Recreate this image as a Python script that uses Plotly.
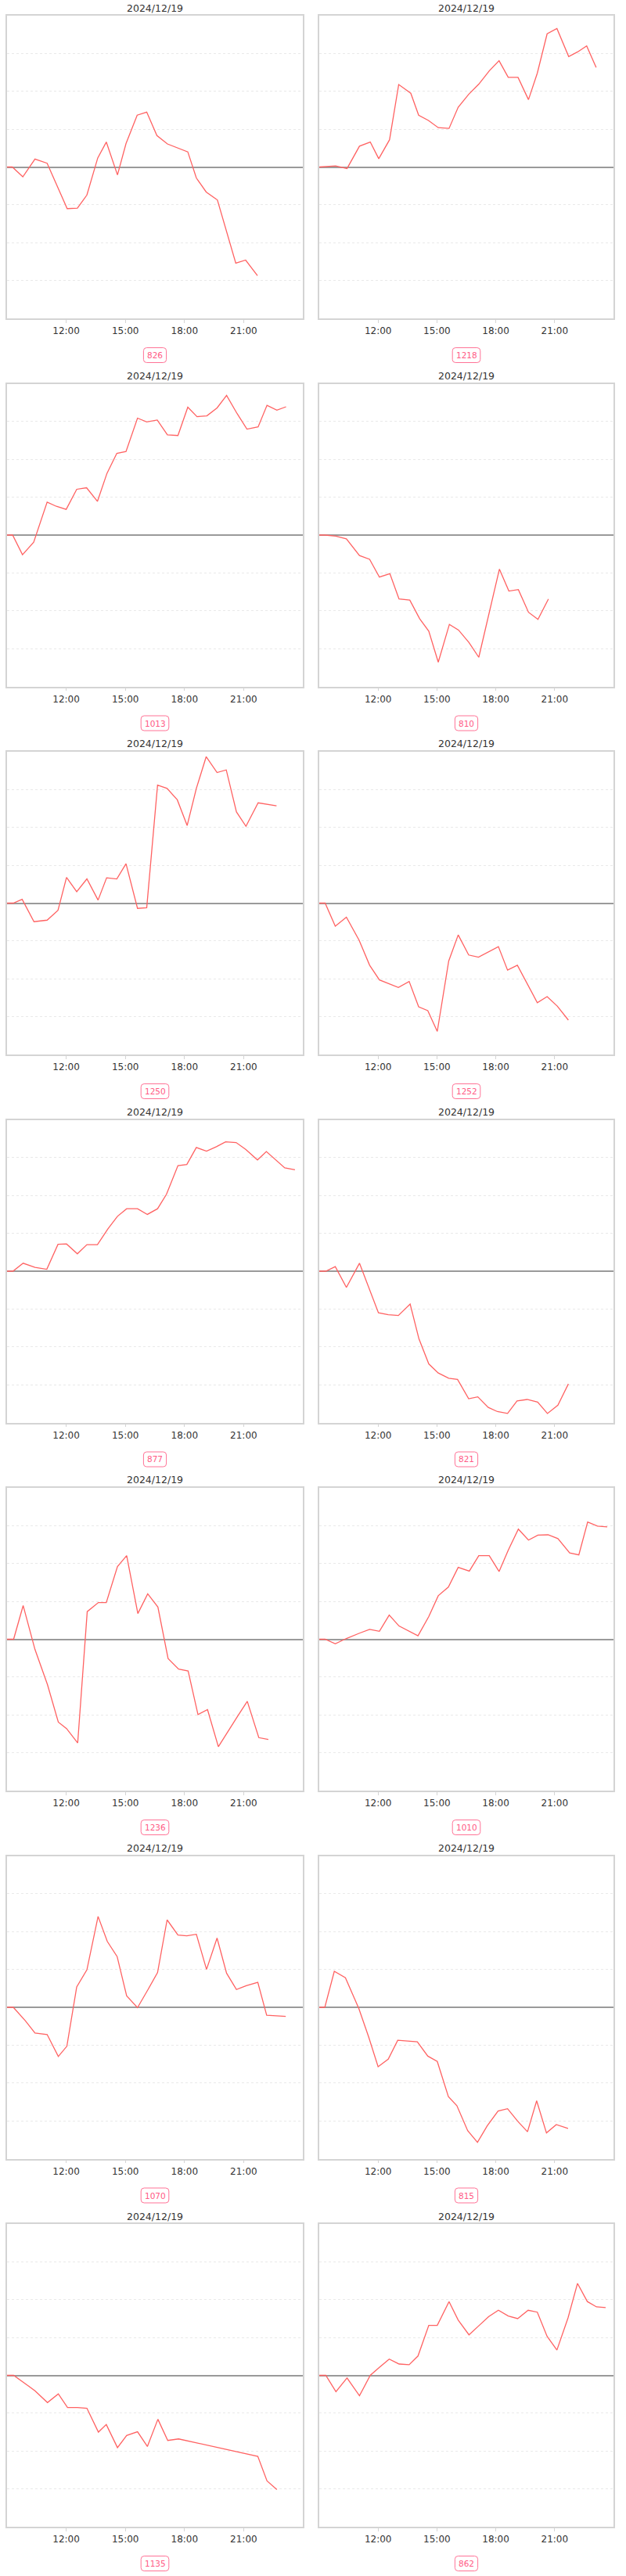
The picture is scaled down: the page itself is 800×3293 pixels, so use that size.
import plotly.graph_objects as go
from datetime import datetime

DATE = "2024-12-19"
TITLE = "2024/12/19"
TICK_LABELS = ["12:00", "15:00", "18:00", "21:00"]

labels = ["826", "1218", "1013", "810", "1250", "1252", "877", "821",
          "1236", "1010", "1070", "815", "1135", "862"]

t826 = ["09:00", "09:16", "09:48", "10:25", "11:02", "12:03", "12:34", "13:03", "13:36", "14:02", "14:36", "15:02",
        "15:36", "16:05", "16:36", "17:08", "18:10", "18:36", "19:06", "19:40", "20:36", "21:06", "21:42"]
v826 = [0, 0, -0.26, 0.21, 0.10, -1.10, -1.09, -0.74, 0.24, 0.66, -0.21, 0.62, 1.37, 1.45, 0.83, 0.61, 0.40,
        -0.29, -0.66, -0.87, -2.54, -2.46, -2.87]

t1218 = ["09:00", "09:50", "10:25", "11:03", "11:36", "12:02", "12:35", "13:03", "13:40", "14:04", "14:34", "15:04",
         "15:37", "16:05", "16:37", "17:08", "17:40", "18:10", "18:38", "19:08", "19:40", "20:07", "20:37", "21:07",
         "21:43", "22:10", "22:38", "23:07"]
v1218 = [0, 0.03, -0.04, 0.55, 0.66, 0.22, 0.72, 2.18, 1.95, 1.37, 1.23, 1.04, 1.02, 1.58, 1.92, 2.19, 2.54, 2.81,
         2.37, 2.37, 1.78, 2.48, 3.52, 3.66, 2.92, 3.04, 3.20, 2.63]

t1013 = ["09:00", "09:17", "09:47", "10:21", "11:02", "11:30", "12:00", "12:32", "13:02", "13:35", "14:04", "14:34",
         "15:02", "15:37", "16:05", "16:37", "17:08", "17:40", "18:10", "18:38", "19:08", "19:39", "20:08", "20:40",
         "21:10", "21:44", "22:11", "22:41", "23:09"]
v1013 = [0, 0, -0.52, -0.19, 0.87, 0.76, 0.68, 1.21, 1.25, 0.89, 1.63, 2.16, 2.21, 3.09, 2.99, 3.04, 2.65, 2.63,
         3.38, 3.13, 3.15, 3.36, 3.69, 3.21, 2.80, 2.86, 3.43, 3.30, 3.39]

t810 = ["09:00", "09:18", "09:51", "10:23", "11:03", "11:34", "12:04", "12:36", "13:04", "13:37", "14:07", "14:35",
        "15:04", "15:38", "16:06", "16:38", "17:08", "18:11", "18:40", "19:09", "19:40", "20:09", "20:41"]
v810 = [0, 0, -0.03, -0.10, -0.54, -0.64, -1.11, -1.02, -1.69, -1.72, -2.21, -2.54, -3.36, -2.36, -2.51, -2.84,
        -3.23, -0.90, -1.48, -1.44, -2.04, -2.23, -1.69]

t1250 = ["09:00", "09:19", "09:46", "10:22", "11:02", "11:35", "12:01", "12:32", "13:03", "13:37", "14:03", "14:34",
         "15:02", "15:37", "16:05", "16:38", "17:07", "17:38", "18:08", "18:36", "19:06", "19:39", "20:07", "20:38",
         "21:07", "21:44", "22:40"]
v1250 = [0, 0, 0.10, -0.49, -0.45, -0.19, 0.68, 0.30, 0.64, 0.08, 0.67, 0.64, 1.04, -0.14, -0.12, 3.12, 3.03, 2.73,
         2.05, 3.03, 3.87, 3.45, 3.52, 2.41, 2.03, 2.65, 2.57]

t1252 = ["09:00", "09:18", "09:49", "10:23", "11:02", "11:34", "12:04", "13:02", "13:35", "14:04", "14:32", "15:01",
         "15:36", "16:05", "16:37", "17:07", "18:08", "18:36", "19:06", "19:37", "20:07", "20:37", "21:08", "21:42"]
v1252 = [0, 0, -0.61, -0.37, -0.98, -1.64, -2.03, -2.23, -2.07, -2.74, -2.84, -3.39, -1.53, -0.84, -1.37, -1.43,
         -1.15, -1.77, -1.64, -2.15, -2.63, -2.47, -2.72, -3.09]

t877 = ["09:00", "09:18", "09:49", "10:25", "11:01", "11:35", "12:01", "12:34", "13:03", "13:35", "14:07", "14:36",
        "15:04", "15:37", "16:07", "16:38", "17:05", "17:40", "18:07", "18:36", "19:07", "19:37", "20:05", "20:37",
        "21:06", "21:42", "22:09", "22:39", "23:05", "23:36"]
v877 = [0, 0, 0.21, 0.10, 0.05, 0.71, 0.72, 0.46, 0.70, 0.70, 1.12, 1.45, 1.65, 1.65, 1.50, 1.65, 2.03, 2.79, 2.82,
        3.27, 3.17, 3.29, 3.42, 3.40, 3.22, 2.94, 3.16, 2.93, 2.73, 2.68]

t821 = ["09:00", "09:20", "09:49", "10:23", "11:03", "12:01", "12:31", "13:02", "13:38", "14:05", "14:35", "15:04",
        "15:36", "16:03", "16:37", "17:05", "17:37", "18:05", "18:36", "19:05", "19:36", "20:08", "20:38", "21:10",
        "21:42"]
v821 = [0, 0, 0.12, -0.43, 0.21, -1.10, -1.15, -1.17, -0.87, -1.79, -2.45, -2.69, -2.83, -2.86, -3.37, -3.32,
        -3.60, -3.71, -3.76, -3.43, -3.39, -3.46, -3.76, -3.54, -2.98]

t1236 = ["09:00", "09:20", "09:49", "10:25", "11:03", "11:36", "12:01", "12:35", "13:04", "13:38", "14:02", "14:36",
         "15:04", "15:38", "16:08", "16:39", "17:10", "17:42", "18:11", "18:41", "19:10", "19:43", "20:42", "21:11",
         "21:46", "22:15"]
v1236 = [0, 0, 0.89, -0.27, -1.20, -2.19, -2.36, -2.74, 0.73, 0.97, 0.97, 1.92, 2.21, 0.68, 1.20, 0.85, -0.51,
         -0.79, -0.84, -1.99, -1.86, -2.84, -2.03, -1.64, -2.60, -2.65]

t1010 = ["09:00", "09:18", "09:49", "10:23", "11:03", "11:34", "12:04", "12:34", "13:04", "13:34", "14:02", "14:35",
         "15:04", "15:35", "16:05", "16:39", "17:08", "17:40", "18:10", "18:38", "19:09", "19:40", "20:09", "20:40",
         "21:10", "21:46", "22:14", "22:41", "23:11", "23:41"]
v1010 = [0, 0, -0.12, 0.02, 0.16, 0.26, 0.21, 0.64, 0.35, 0.21, 0.09, 0.60, 1.15, 1.38, 1.90, 1.80, 2.21, 2.21,
         1.79, 2.35, 2.91, 2.62, 2.75, 2.76, 2.66, 2.28, 2.23, 3.10, 2.99, 2.97]

t1070 = ["09:00", "09:19", "09:56", "10:25", "11:02", "11:36", "12:02", "12:32", "13:03", "13:37", "14:05", "14:35",
         "15:04", "15:37", "16:09", "16:38", "17:07", "17:40", "18:07", "18:36", "19:07", "19:39", "20:08", "20:38",
         "21:08", "21:43", "22:10", "23:08"]
v1070 = [0, 0, -0.36, -0.68, -0.72, -1.30, -1.03, 0.54, 0.99, 2.40, 1.74, 1.34, 0.30, -0.01, 0.47, 0.92, 2.31,
         1.91, 1.89, 1.93, 1.00, 1.83, 0.90, 0.47, 0.57, 0.66, -0.21, -0.24]

t815 = ["09:00", "09:17", "09:46", "10:20", "11:01", "11:31", "12:00", "12:31", "13:00", "13:30", "14:00", "14:32",
        "15:01", "15:35", "16:01", "16:34", "17:04", "17:34", "18:07", "18:36", "19:07", "19:37", "20:05", "20:35",
        "21:05", "21:41"]
v815 = [0, 0, 0.95, 0.78, -0.03, -0.78, -1.57, -1.37, -0.87, -0.89, -0.91, -1.29, -1.43, -2.36, -2.60, -3.26,
        -3.57, -3.13, -2.74, -2.68, -3.01, -3.29, -2.47, -3.32, -3.10, -3.20]

t1135 = ["09:00", "09:20", "09:54", "10:25", "11:03", "11:36", "12:04", "12:34", "13:03", "13:38", "14:02", "14:36",
         "15:04", "15:37", "16:07", "16:39", "17:09", "17:42", "21:43", "22:11", "22:41"]
v1135 = [0, 0, -0.21, -0.41, -0.72, -0.49, -0.85, -0.85, -0.87, -1.50, -1.30, -1.91, -1.59, -1.49, -1.88, -1.16,
         -1.72, -1.68, -2.14, -2.79, -3.02]

t862 = ["09:00", "09:20", "09:51", "10:25", "11:03", "11:36", "12:04", "12:34", "13:04", "13:35", "14:02", "14:35",
        "15:01", "15:37", "16:05", "16:38", "17:08", "17:38", "18:08", "18:38", "19:07", "19:39", "20:07", "20:37",
        "21:07", "21:41", "22:10", "22:40", "23:08", "23:36"]
v862 = [0, 0, -0.43, -0.07, -0.54, 0, 0.21, 0.43, 0.30, 0.28, 0.51, 1.32, 1.32, 1.95, 1.46, 1.07, 1.31, 1.55, 1.72,
        1.57, 1.50, 1.72, 1.67, 1.03, 0.67, 1.52, 2.43, 1.95, 1.81, 1.79]

times = [t826, t1218, t1013, t810, t1250, t1252, t877, t821, t1236, t1010, t1070, t815, t1135, t862]
values = [v826, v1218, v1013, v810, v1250, v1252, v877, v821, v1236, v1010, v1070, v815, v1135, v862]

# ---- layout geometry (pixels) ----
W, H = 800, 3293
ROW_PITCH = 470.5
PLOT_TOP = 20
PLOT_H = 387
COL_X = [(9, 387), (408, 784)]
LINE_COLOR = "#ff6262"
BADGE_COLOR = "#ff7396"
BADGE_TEXT = "#ff5a84"
FONT = "DejaVu Sans"


def py(p):
    return 1 - p / H


def px(p):
    return p / W


fig = go.Figure()
layout = dict(width=W, height=H, margin=dict(l=0, r=0, t=0, b=0), showlegend=False,
              paper_bgcolor="white", plot_bgcolor="white", font=dict(family=FONT, color="#333"))
annotations = []
shapes = []

tickvals = [f"{DATE} {s}" for s in TICK_LABELS]

for i, (ts, vs) in enumerate(zip(times, values)):
    r, c = divmod(i, 2)
    n = i + 1
    xa = "x" if n == 1 else f"x{n}"
    ya = "y" if n == 1 else f"y{n}"
    top = PLOT_TOP + ROW_PITCH * r
    bot = top + PLOT_H
    x0, x1 = COL_X[c]
    fig.add_trace(go.Scatter(
        x=[datetime.strptime(f"{DATE} {s}", "%Y-%m-%d %H:%M") for s in ts], y=vs,
        mode="lines", line=dict(color=LINE_COLOR, width=1.3), xaxis=xa, yaxis=ya, hoverinfo="skip"))
    layout["xaxis" if n == 1 else f"xaxis{n}"] = dict(
        domain=[px(x0), px(x1)], anchor=ya, type="date",
        range=[f"{DATE} 09:00", "2024-12-20 00:00"],
        tickvals=tickvals, ticktext=TICK_LABELS,
        showgrid=False, zeroline=False,
        showline=True, linecolor="#d4d4d4", linewidth=1.5, mirror=True,
        ticks="outside", ticklen=4, tickcolor="#d4d4d4", tickwidth=1,
        tickfont=dict(family=FONT, size=12, color="#333"), fixedrange=True)
    layout["yaxis" if n == 1 else f"yaxis{n}"] = dict(
        domain=[py(bot), py(top)], anchor=xa, range=[-4, 4], dtick=1,
        showticklabels=False, ticks="",
        showgrid=True, gridcolor="#e9e9e9", griddash="dot", gridwidth=1,
        zeroline=True, zerolinecolor="#9a9a9a", zerolinewidth=1.5,
        showline=True, linecolor="#d4d4d4", linewidth=1.5, mirror=True, fixedrange=True)

    cx = (x0 + x1) / 2
    annotations.append(dict(text=TITLE, x=px(cx), y=py(top - 10), xref="paper", yref="paper",
                            xanchor="center", yanchor="middle", showarrow=False,
                            font=dict(family=FONT, size=12.5, color="#333")))
    # badge
    lab = labels[i]
    bw = len(lab) * 6.4 + 10
    bh = 19
    bcy = top + 434
    bx0, bx1 = cx - bw / 2, cx + bw / 2
    by0, by1 = bcy - bh / 2, bcy + bh / 2
    rr = 4
    path = (f"M {px(bx0 + rr)} {py(by0)} L {px(bx1 - rr)} {py(by0)} "
            f"Q {px(bx1)} {py(by0)} {px(bx1)} {py(by0 + rr)} L {px(bx1)} {py(by1 - rr)} "
            f"Q {px(bx1)} {py(by1)} {px(bx1 - rr)} {py(by1)} L {px(bx0 + rr)} {py(by1)} "
            f"Q {px(bx0)} {py(by1)} {px(bx0)} {py(by1 - rr)} L {px(bx0)} {py(by0 + rr)} "
            f"Q {px(bx0)} {py(by0)} {px(bx0 + rr)} {py(by0)} Z")
    shapes.append(dict(type="path", path=path, xref="paper", yref="paper",
                       line=dict(color=BADGE_COLOR, width=1), fillcolor="white", layer="above"))
    annotations.append(dict(text=lab, x=px(cx), y=py(bcy), xref="paper", yref="paper",
                            xanchor="center", yanchor="middle", showarrow=False,
                            font=dict(family=FONT, size=10.5, color=BADGE_TEXT)))

layout["annotations"] = annotations
layout["shapes"] = shapes
fig.update_layout(**layout)
fig.write_html("out.html")
